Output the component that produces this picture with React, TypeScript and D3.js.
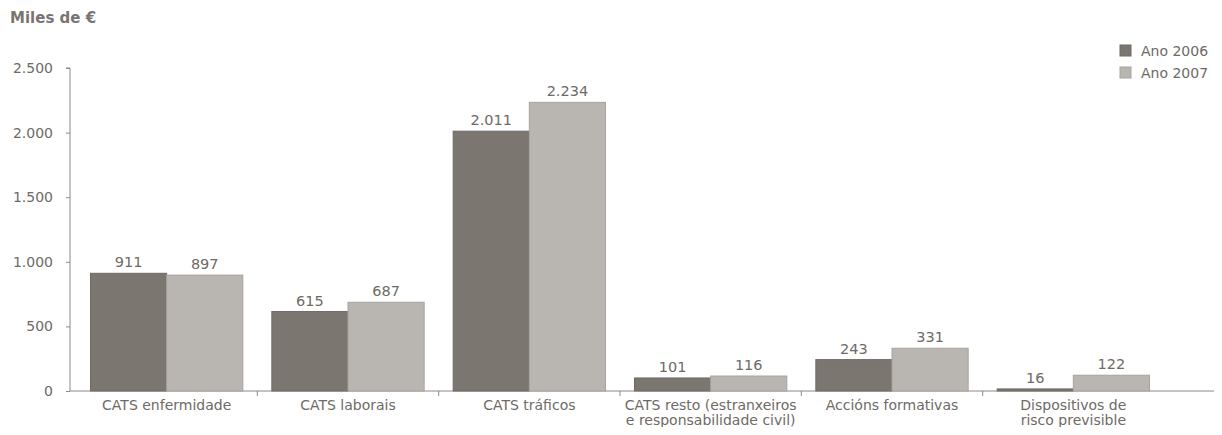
import React, { useRef, useEffect } from 'react';
import * as d3 from 'd3';

const categories = [
  ['CATS enfermidade'],
  ['CATS laborais'],
  ['CATS tráficos'],
  ['CATS resto (estranxeiros', 'e responsabilidade civil)'],
  ['Accións formativas'],
  ['Dispositivos de', 'risco previsible'],
];
const series = ['Ano 2006', 'Ano 2007'];
const values2006 = [911, 615, 2011, 101, 243, 16];
const values2007 = [897, 687, 2234, 116, 331, 122];
const yTicks = [0, 500, 1000, 1500, 2000, 2500];

const colors = ['#7b7670', '#b9b5b1'];
const strokes = ['#6f6a64', '#a7a39f'];
const textColor = '#6e6a65';
const font = '"DejaVu Sans", sans-serif';

const fmt = (v: number) => d3.format(',')(v).replace(/,/g, '.');

const BarChart = ({ width, height }: { width: number; height: number }) => {
  const ref = useRef<SVGSVGElement>(null);

  useEffect(() => {
    const svg = d3.select(ref.current)
      .attr('width', width)
      .attr('height', height)
      .style('background-color', 'white')
      .style('display', 'block');

    svg.selectAll('*').remove();

    const axisX = 70;
    const yScale = d3.scaleLinear().domain([0, 2500]).range([391, 68]);

    const idx = categories.map((_, i) => i);
    const xScale = d3.scaleBand<number>().domain(idx).range([76, 1164]).paddingInner(0.16).paddingOuter(0.08);
    const xInner = d3.scaleBand<number>().domain([0, 1]).range([0, xScale.bandwidth()]);

    // title
    svg.append('text')
      .attr('x', 10).attr('y', 23)
      .style('font-family', font).style('font-weight', 'bold')
      .style('font-size', '15px').style('fill', '#79746f')
      .text('Miles de €');

    // y axis
    const yAxis = d3.axisLeft(yScale).tickValues(yTicks).tickSize(4).tickPadding(13).tickFormat((d) => fmt(+d));
    const yg = svg.append('g').attr('transform', `translate(${axisX},0)`).call(yAxis);
    yg.select('.domain').attr('stroke', '#8e8a86').attr('d', `M-4,${yScale(2500)}H0V${yScale(0)}`);
    yg.selectAll('line').attr('stroke', '#8e8a86');
    yg.selectAll('text').style('font-family', font).style('font-size', '14px').style('fill', textColor);

    // x axis line and separators
    svg.append('line')
      .attr('x1', axisX).attr('x2', width)
      .attr('y1', yScale(0)).attr('y2', yScale(0))
      .attr('stroke', '#8e8a86');
    const step = xScale.step();
    svg.append('g').selectAll('line')
      .data(idx.slice(1))
      .enter().append('line')
      .attr('x1', (d) => xScale(d)! - (step - xScale.bandwidth()) / 2)
      .attr('x2', (d) => xScale(d)! - (step - xScale.bandwidth()) / 2)
      .attr('y1', yScale(0)).attr('y2', yScale(0) + 5)
      .attr('stroke', '#8e8a86');

    const rows = idx.map((i) => [values2006[i], values2007[i]]);

    const groups = svg.append('g').selectAll('g')
      .data(rows)
      .enter().append('g')
      .attr('transform', (_, i) => `translate(${xScale(i)},0)`);

    groups.selectAll('rect')
      .data((d) => d)
      .enter().append('rect')
      .attr('x', (_, j) => xInner(j)!)
      .attr('y', (d) => yScale(d))
      .attr('width', xInner.bandwidth())
      .attr('height', (d) => yScale(0) - yScale(d))
      .attr('fill', (_, j) => colors[j])
      .attr('stroke', (_, j) => strokes[j])
      .attr('stroke-width', 1);

    groups.selectAll('text.val')
      .data((d) => d)
      .enter().append('text')
      .attr('class', 'val')
      .attr('x', (_, j) => xInner(j)! + xInner.bandwidth() / 2)
      .attr('y', (d) => yScale(d) - 6)
      .attr('text-anchor', 'middle')
      .style('font-family', font).style('font-size', '14.5px').style('fill', textColor)
      .text((d) => fmt(d));

    // category labels
    const lab = svg.append('g').selectAll('text')
      .data(categories)
      .enter().append('text')
      .attr('x', (_, i) => xScale(i)! + xScale.bandwidth() / 2)
      .attr('y', 410)
      .attr('text-anchor', 'middle')
      .style('font-family', font).style('font-size', '14px').style('fill', textColor);
    lab.selectAll('tspan')
      .data((d) => d)
      .enter().append('tspan')
      .attr('x', function () { return (this.parentNode as SVGTextElement).getAttribute('x'); })
      .attr('dy', (_, k) => (k === 0 ? 0 : 15))
      .text((d) => d);

    // legend
    const leg = svg.append('g').selectAll('g')
      .data(series)
      .enter().append('g')
      .attr('transform', (_, i) => `translate(1120,${45 + i * 22})`);
    leg.append('rect')
      .attr('width', 11).attr('height', 11)
      .attr('fill', (_, i) => colors[i])
      .attr('stroke', (_, i) => strokes[i]);
    leg.append('text')
      .attr('x', 21).attr('y', 10.5)
      .style('font-family', font).style('font-size', '14px').style('fill', textColor)
      .text((d) => d);
  }, [width, height]);

  return <svg ref={ref}></svg>;
};

export default function App() {
  return (
    <div style={{ margin: '-8px' }}>
      <BarChart width={1222} height={435} />
    </div>
  );
}
